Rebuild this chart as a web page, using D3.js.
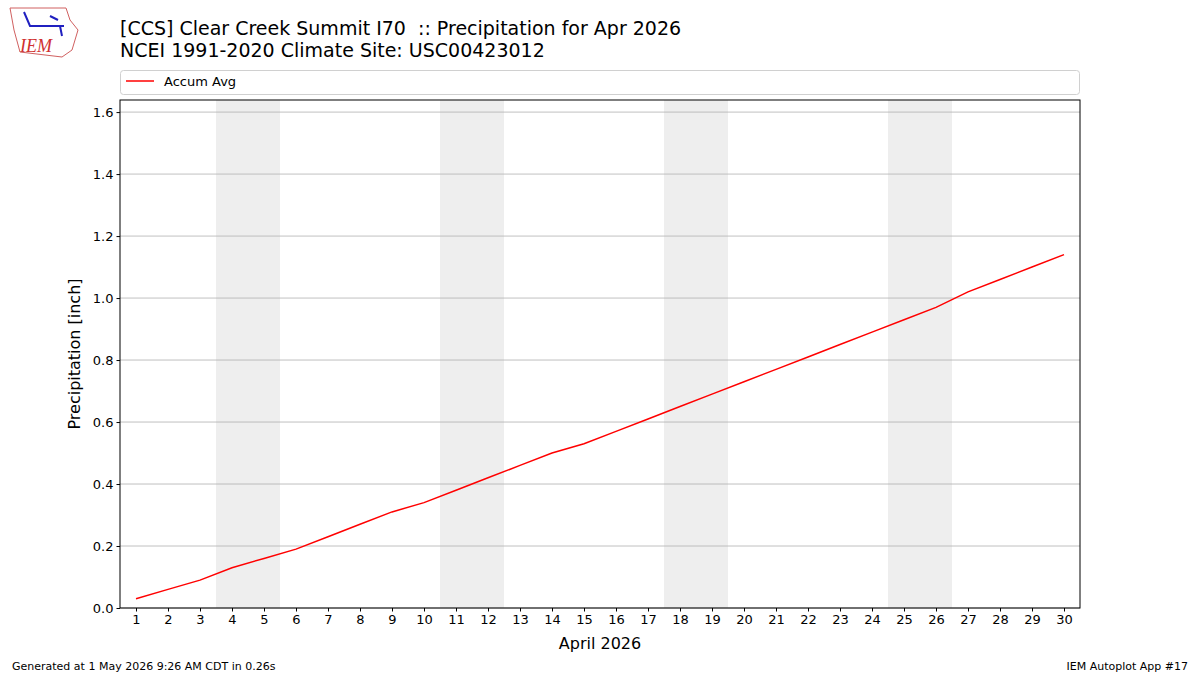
<!DOCTYPE html>
<html><head><meta charset="utf-8">
<script src="https://cdn.jsdelivr.net/npm/d3@7"></script>
<style>body{margin:0;background:#fff;font-family:"DejaVu Sans",sans-serif}</style>
</head><body><div id="chart"></div>
<script>
// 資料
const days = d3.range(1, 31);
const accumAvg = [0.03,0.06,0.09,0.13,0.16,0.19,0.23,0.27,0.31,0.34,0.38,0.42,0.46,0.50,0.53,
  0.57,0.61,0.65,0.69,0.73,0.77,0.81,0.85,0.89,0.93,0.97,1.02,1.06,1.10,1.14];
const weekends = [[4,5],[11,12],[18,19],[25,26]];
const yTicks = [0,0.2,0.4,0.6,0.8,1.0,1.2,1.4,1.6];

const width = 1200, height = 675;
const m = {left:120, right:1080, top:100, bottom:608};

const svg = d3.select("#chart").append("svg")
  .attr("width", width).attr("height", height);

const x = d3.scaleLinear().domain([0.5, 30.5]).range([m.left, m.right]);
const y = d3.scaleLinear().domain([0, 1.639]).range([m.bottom, m.top]);

// 週末陰影
svg.selectAll("rect.we").data(weekends).enter().append("rect")
  .attr("x", d => x(d[0] - 0.5)).attr("width", d => x(d[1] + 0.5) - x(d[0] - 0.5))
  .attr("y", m.top).attr("height", m.bottom - m.top).attr("fill", "#eeeeee");

// 格線
svg.selectAll("line.grid").data(yTicks).enter().append("line")
  .attr("x1", m.left).attr("x2", m.right)
  .attr("y1", d => y(d)).attr("y2", d => y(d))
  .attr("stroke", "#b0b0b0").attr("stroke-width", 0.8);

// 線
svg.append("path").datum(days)
  .attr("d", d3.line().x(d => x(d)).y((d, i) => y(accumAvg[i])))
  .attr("fill", "none").attr("stroke", "red").attr("stroke-width", 1.5);

// 軸
const xAxis = svg.append("g").attr("transform", `translate(0,${m.bottom})`)
  .call(d3.axisBottom(x).tickValues(days).tickSizeOuter(0).tickSize(3.5));
const yAxis = svg.append("g").attr("transform", `translate(${m.left},0)`)
  .call(d3.axisLeft(y).tickValues(yTicks).tickFormat(d3.format(".1f")).tickSizeOuter(0).tickSize(3.5));
[xAxis, yAxis].forEach(g => {
  g.selectAll("text").attr("font-size", 13).attr("fill", "#000").attr("font-family", "DejaVu Sans");
  g.select(".domain").remove();
});
svg.append("rect").attr("x", m.left).attr("y", m.top)
  .attr("width", m.right - m.left).attr("height", m.bottom - m.top)
  .attr("fill", "none").attr("stroke", "#000").attr("stroke-width", 1);

svg.append("text").attr("x", 600).attr("y", 649).attr("text-anchor", "middle")
  .attr("font-size", 16).text("April 2026");
svg.append("text").attr("transform", "translate(80,354) rotate(-90)").attr("text-anchor", "middle")
  .attr("font-size", 16).text("Precipitation [inch]");

// 標題
svg.append("text").attr("x", 120).attr("y", 35).attr("font-size", 19)
  .style("white-space", "pre")
  .text("[CCS] Clear Creek Summit I70  :: Precipitation for Apr 2026");
svg.append("text").attr("x", 120).attr("y", 57).attr("font-size", 19)
  .text("NCEI 1991-2020 Climate Site: USC00423012");

// 圖例
svg.append("rect").attr("x", 120.5).attr("y", 70.5).attr("width", 959).attr("height", 24)
  .attr("rx", 3).attr("fill", "#fff").attr("stroke", "#d0d0d0");
svg.append("line").attr("x1", 126).attr("x2", 154).attr("y1", 81).attr("y2", 81)
  .attr("stroke", "red").attr("stroke-width", 1.5);
svg.append("text").attr("x", 164).attr("y", 86).attr("font-size", 13).text("Accum Avg");

// 標誌
svg.append("text").attr("x", 20).attr("y", 52).attr("font-size", 18).attr("font-style", "italic")
  .attr("font-family", "Liberation Serif").attr("fill", "#d03030").text("IEM");
svg.append("path").attr("d", "M10,8 L66,8 L70,20 L78,30 L72,50 L62,57 L20,52 L14,30 Z")
  .attr("fill", "none").attr("stroke", "#d06060").attr("stroke-width", 1);
svg.append("path").attr("d", "M24,12 L30,26 L64,26 M50,16 L58,20 M60,26 L62,36")
  .attr("fill", "none").attr("stroke", "#2020c0").attr("stroke-width", 2);

// 頁尾
svg.append("text").attr("x", 12).attr("y", 670).attr("font-size", 11)
  .text("Generated at 1 May 2026 9:26 AM CDT in 0.26s");
svg.append("text").attr("x", 1188).attr("y", 670).attr("font-size", 11).attr("text-anchor", "end")
  .text("IEM Autoplot App #17");
</script></body></html>
